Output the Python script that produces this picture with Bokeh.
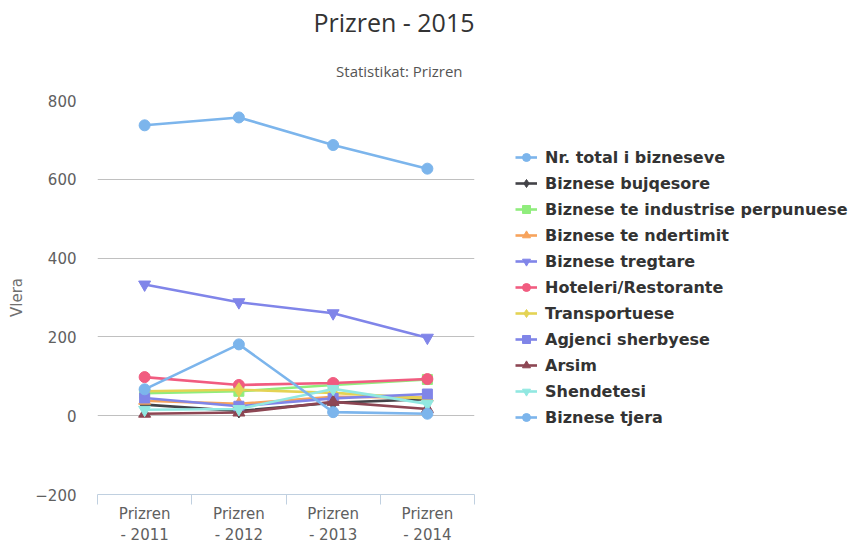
from bokeh.plotting import figure
from bokeh.models import (Range1d, FixedTicker, Title, Legend, LegendItem, ColumnDataSource)
from bokeh.embed import file_html
from bokeh.resources import INLINE
import numpy as np

categories = ["Prizren\n- 2011", "Prizren\n- 2012", "Prizren\n- 2013", "Prizren\n- 2014"]

names = ["Nr. total i bizneseve", "Biznese bujqesore", "Biznese te industrise perpunuese",
         "Biznese te ndertimit", "Biznese tregtare", "Hoteleri/Restorante", "Transportuese",
         "Agjenci sherbyese", "Arsim", "Shendetesi", "Biznese tjera"]

total      = [737, 757, 687, 627]
bujqesore  = [28, 12, 33, 42]
industrise = [57, 62, 78, 92]
ndertimit  = [38, 30, 48, 46]
tregtare   = [333, 288, 260, 198]
hoteleri   = [98, 78, 83, 93]
transport  = [62, 66, 58, 44]
agjenci    = [45, 24, 44, 55]
arsim      = [5, 8, 35, 17]
shendetesi = [15, 17, 68, 30]
tjera      = [67, 181, 9, 5]

series = [total, bujqesore, industrise, ndertimit, tregtare, hoteleri, transport,
          agjenci, arsim, shendetesi, tjera]
colors = ['#7cb5ec', '#434348', '#90ed7d', '#f7a35c', '#8085e9', '#f15c80', '#e4d354',
          '#8085e8', '#8d4653', '#91e8e1', '#7cb5ec']
markers = ["circle", "diamond", "square", "triangle", "inverted_triangle"] * 3
msizes = {"circle": 11, "diamond": 14, "square": 10, "triangle": 12, "inverted_triangle": 12}

yticks = [-200, 0, 200, 400, 600, 800]

n = len(categories)
xc = list(np.arange(n) + 0.5)
bounds = list(np.arange(n + 1).astype(float))

p = figure(frame_width=377, frame_height=394, output_backend="svg", toolbar_location=None,
           x_range=Range1d(0, n), y_range=Range1d(yticks[0], yticks[-1]),
           min_border_left=97, min_border_right=374, min_border_top=100, min_border_bottom=40)
p.outline_line_color = None
p.background_fill_color = "white"
p.border_fill_color = "white"

# axes
xa = p.xaxis[0]
xa.ticker = FixedTicker(ticks=xc, minor_ticks=bounds)
xa.major_label_overrides = {float(x): c for x, c in zip(xc, categories)}
xa.major_tick_out = 0
xa.major_tick_in = 0
xa.minor_tick_in = 0
xa.minor_tick_out = 10
xa.minor_tick_line_color = "#C0D0E0"
xa.axis_line_color = "#C0D0E0"
xa.major_label_text_font = "DejaVu Sans"
xa.major_label_text_font_size = "15px"
xa.major_label_text_color = "#606060"
xa.major_label_standoff = 0

ya = p.yaxis[0]
ya.ticker = FixedTicker(ticks=yticks)
ya.axis_line_color = None
ya.major_tick_line_color = None
ya.minor_tick_line_color = None
ya.major_label_standoff = 15
ya.major_label_text_font = "DejaVu Sans"
ya.major_label_text_font_size = "15px"
ya.major_label_text_color = "#606060"
ya.axis_label = "Vlera"
ya.axis_label_text_font = "DejaVu Sans"
ya.axis_label_text_font_size = "15px"
ya.axis_label_text_font_style = "normal"
ya.axis_label_text_color = "#707070"
ya.axis_label_standoff = 6

p.xgrid.grid_line_color = None
p.ygrid.grid_line_color = "#C0C0C0"
p.ygrid.ticker = FixedTicker(ticks=yticks)

items = []
for name, vals, col, mk in zip(names, series, colors, markers):
    src = ColumnDataSource(dict(x=xc, y=vals))
    lr = p.line("x", "y", source=src, line_color=col, line_width=2.6)
    sr = p.scatter("x", "y", source=src, marker=mk, size=msizes[mk], fill_color=col,
                   line_color=col, line_width=1)
    items.append(LegendItem(label=name, renderers=[lr, sr]))

legend = Legend(items=items, location=(41, 67), orientation="vertical")
legend.label_text_font = "DejaVu Sans"
legend.label_text_font_size = "16px"
legend.label_text_font_style = "bold"
legend.label_text_color = "#333333"
legend.glyph_width = 22
legend.glyph_height = 20
legend.label_height = 20
legend.spacing = 6
legend.label_standoff = 8
legend.padding = 0
legend.margin = 0
legend.border_line_color = None
legend.background_fill_alpha = 0
p.add_layout(legend, "right")

subtitle = Title(text="Statistikat: Prizren", align="right", offset=12,
                 text_font="Open Sans", text_font_size="15px", text_color="#555555",
                 text_font_style="normal", standoff=40)
title = Title(text="Prizren - 2015", align="right", offset=0,
              text_font="Open Sans", text_font_size="25px", text_color="#333333",
              text_font_style="normal", standoff=0)
p.add_layout(subtitle, "above")
p.add_layout(title, "above")

open("out.html", "w").write(file_html(p, INLINE))
